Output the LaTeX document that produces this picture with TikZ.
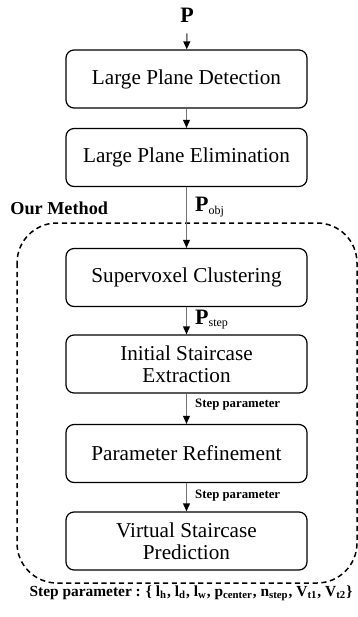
\documentclass[tikz,border=0pt]{standalone}
\usepackage{fontspec}
\setmainfont{Liberation Serif}
\usetikzlibrary{arrows.meta}

\tikzset{
  stage/.style={draw=black,line width=.6pt,rounded corners=4pt,minimum width=120.5pt,
    minimum height=29pt,align=center,inner sep=1pt,font=\fontsize{10.6}{11}\selectfont},
  flow/.style={draw=black!55,line width=.7pt,-{Triangle[length=4pt,width=3.4pt,color=black]}},
  flowlbl/.style={anchor=west,inner sep=0pt,xshift=4pt},
  steplbl/.style={flowlbl,font=\bfseries\fontsize{6.4}{7}\selectfont},
  methodbox/.style={draw=black,line width=.75pt,dash pattern=on 2.6pt off 1.8pt,rounded corners=20pt},
}

\begin{document}
\begin{tikzpicture}[x=.5pt,y=-.5pt]
\useasboundingbox (0,0) rectangle (358,617);
% our method frame
\draw[methodbox] (17,223) rectangle (357,583);
\node[anchor=west,inner sep=0pt,font=\bfseries\fontsize{9.1}{11}\selectfont] (method) at (10,208) {Our Method};
% pipeline
\node[font=\bfseries\fontsize{11}{13}\selectfont] (input) at (187,15) {P};
\node[stage] (detect) at (186.5,79) {Large Plane Detection};
\node[stage] (elim) at (186.5,157.5) {Large Plane Elimination};
\node[stage] (cluster) at (186.5,277.5) {Supervoxel Clustering};
\node[stage] (extract) at (186.5,364) {Initial Staircase\\Extraction};
\node[stage] (refine) at (186.5,453.5) {Parameter Refinement};
\node[stage] (predict) at (186.5,541) {Virtual Staircase\\Prediction};
% connectors
\draw[flow,shorten <=2pt] (input) -- (detect);
\draw[flow] (detect) -- (elim);
\draw[flow] (elim) -- node[flowlbl,pos=.33] (pobj) {\fontsize{11}{13}\selectfont\textbf{P}{\fontsize{8}{9}\selectfont\textsubscript{obj}}} (cluster);
\draw[flow] (cluster) -- node[flowlbl,pos=.45] (pstep) {\fontsize{11}{13}\selectfont\textbf{P}{\fontsize{8}{9}\selectfont\textsubscript{step}}} (extract);
\draw[flow] (extract) -- node[steplbl,pos=.38] (param1) {Step parameter} (refine);
\draw[flow] (refine) -- node[steplbl,pos=.43] (param2) {Step parameter} (predict);
% legend
\node[font=\bfseries\fontsize{7.7}{9}\selectfont,inner sep=0pt] (legend) at (191,593) {Step parameter : \{ l\textsubscript{h}, l\textsubscript{d}, l\textsubscript{w}, p\textsubscript{center}, n\textsubscript{step}, V\textsubscript{t1}, V\textsubscript{t2}\}};
\end{tikzpicture}
\end{document}
